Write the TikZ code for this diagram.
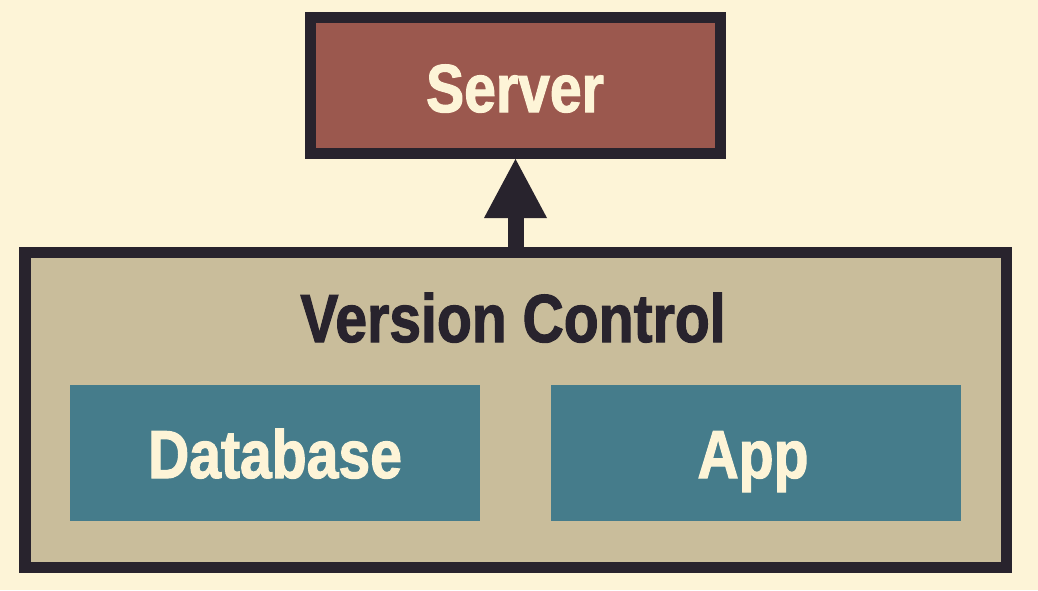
\documentclass[tikz,border=0pt]{standalone}
\usepackage{fontspec}
\setmainfont{Liberation Sans}[FakeStretch=0.84, BoldFeatures={FakeBold=1.6}]
\usetikzlibrary{arrows.meta}
\definecolor{bgcream}{RGB}{253,244,215}
\definecolor{darkink}{RGB}{40,35,45}
\definecolor{serverred}{RGB}{155,88,78}
\definecolor{vctan}{RGB}{201,189,155}
\definecolor{tealbox}{RGB}{69,124,139}
\definecolor{creamtext}{RGB}{253,244,215}
\tikzset{
  framebox/.style={draw=darkink, rectangle, inner sep=0pt},
  innerbox/.style={fill=tealbox, rectangle, inner sep=0pt, minimum width=410pt, minimum height=136pt},
  bigtext/.style={font=\fontsize{68}{70}\selectfont\bfseries, inner sep=0pt, anchor=base},
}
\begin{document}
\begin{tikzpicture}[x=1pt,y=-1pt]
  \fill[bgcream] (0,0) rectangle (1038,590);
  \useasboundingbox (0,0) rectangle (1038,590);
  % containers
  \node[framebox, fill=vctan, line width=11.5pt, minimum width=981.5pt, minimum height=315pt] (vc) at (515.75,410) {};
  \node[framebox, fill=serverred, line width=11pt, minimum width=410pt, minimum height=136pt] (server) at (515.5,85.5) {};
  \node[innerbox] (db) at (275,453) {};
  \node[innerbox] (app) at (755.5,453) {};
  % labels
  \node[bigtext, text=creamtext] (serverlbl) at (515,112) {Server};
  \node[bigtext, text=darkink] (vclbl) at (513,342) {Version Control};
  \node[bigtext, text=creamtext] (dblbl) at (275,478) {Database};
  \node[bigtext, text=creamtext] (applbl) at (753,478) {App};
  % connector
  \draw[darkink, line width=16pt, -{Triangle[width=63pt,length=59pt,line width=0pt]}]
    (vc.north -| server.south) -- (server.south);
\end{tikzpicture}
\end{document}
